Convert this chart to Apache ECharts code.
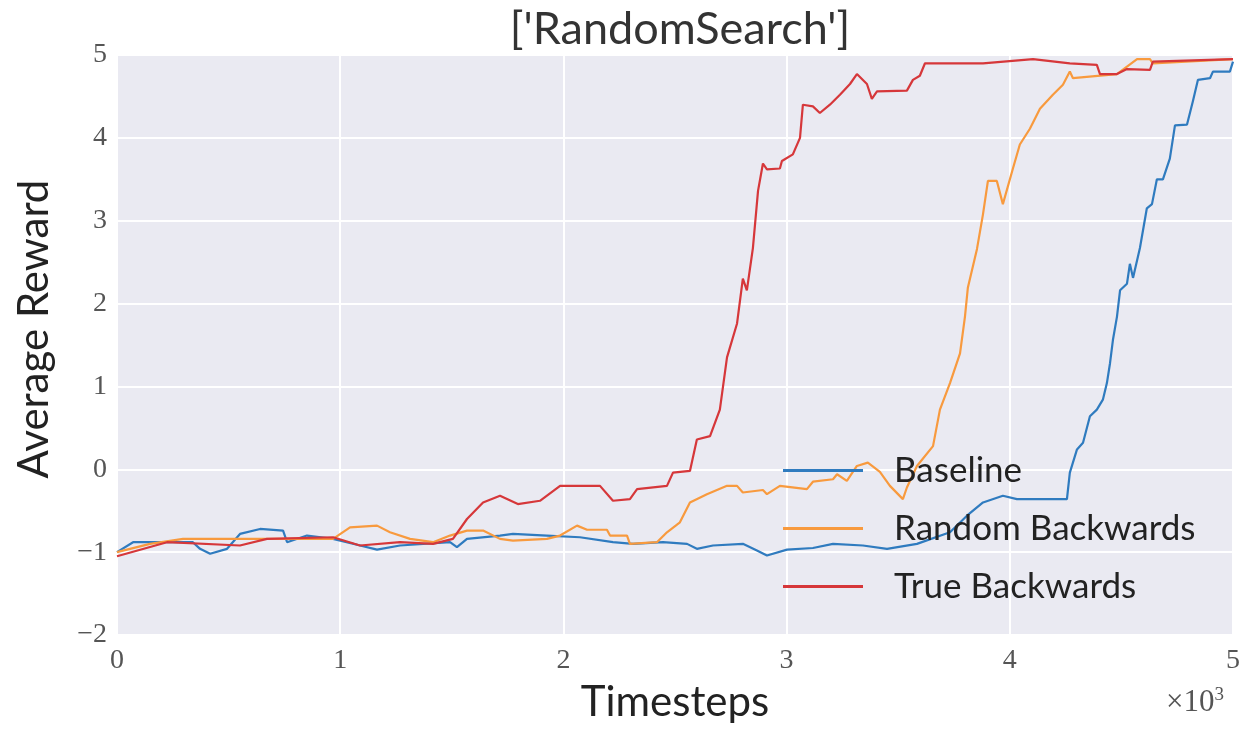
<!DOCTYPE html>
<html>
<head>
<meta charset="utf-8">
<script src="https://cdn.jsdelivr.net/npm/echarts@6/dist/echarts.min.js"></script>
<style>html,body{margin:0;padding:0;background:#fff}#c{width:1252px;height:731px}</style>
</head>
<body>
<div id="c"></div>
<script>
const seriesNames = ['Baseline', 'Random Backwards', 'True Backwards'];
const xTicks = [0, 1000, 2000, 3000, 4000, 5000];
const yTicks = [-2, -1, 0, 1, 2, 3, 4, 5];

const baselineSteps = [0,72,340,372,417,493,551,641,744,762,851,968,1089,1165,1268,1492,1523,1568,1716,1774,1926,2074,2222,2312,2446,2554,2598,2670,2804,2867,2912,3002,3118,3208,3342,3450,3584,3732,3808,3880,3969,4032,4256,4269,4301,4328,4359,4390,4417,4435,4449,4462,4480,4494,4525,4538,4552,4583,4614,4637,4659,4686,4717,4740,4794,4820,4843,4897,4910,4986,5000];
const baselineReward = [-1.0,-0.88,-0.88,-0.96,-1.02,-0.96,-0.78,-0.72,-0.74,-0.88,-0.8,-0.84,-0.92,-0.97,-0.92,-0.88,-0.94,-0.84,-0.8,-0.78,-0.8,-0.82,-0.88,-0.9,-0.88,-0.9,-0.96,-0.92,-0.9,-0.98,-1.04,-0.97,-0.95,-0.9,-0.92,-0.96,-0.9,-0.76,-0.56,-0.4,-0.32,-0.36,-0.36,-0.04,0.24,0.32,0.64,0.72,0.84,1.04,1.28,1.56,1.84,2.16,2.24,2.48,2.31,2.67,3.15,3.2,3.5,3.5,3.75,4.15,4.16,4.44,4.7,4.72,4.8,4.8,4.92];

const randomSteps = [0,148,296,968,1044,1165,1223,1313,1416,1492,1568,1640,1716,1774,1926,1985,2061,2106,2195,2209,2285,2298,2419,2464,2522,2567,2643,2733,2778,2804,2894,2912,2970,3091,3118,3208,3226,3270,3315,3364,3418,3463,3521,3539,3584,3656,3687,3732,3777,3799,3812,3853,3880,3902,3942,3969,4014,4045,4090,4135,4193,4238,4269,4283,4480,4570,4628,4641,5000];
const randomReward = [-1.0,-0.9,-0.84,-0.84,-0.7,-0.68,-0.76,-0.84,-0.88,-0.8,-0.74,-0.74,-0.84,-0.86,-0.84,-0.8,-0.68,-0.73,-0.73,-0.8,-0.8,-0.9,-0.88,-0.76,-0.64,-0.4,-0.3,-0.2,-0.2,-0.28,-0.25,-0.3,-0.2,-0.24,-0.15,-0.12,-0.06,-0.14,0.04,0.08,-0.03,-0.2,-0.36,-0.22,0.04,0.28,0.72,1.04,1.4,1.84,2.19,2.66,3.08,3.48,3.48,3.2,3.63,3.92,4.11,4.35,4.52,4.64,4.8,4.72,4.77,4.95,4.95,4.9,4.95];

const trueSteps = [0,224,551,672,968,1089,1268,1416,1505,1568,1640,1716,1796,1895,1985,2164,2222,2298,2330,2464,2491,2567,2598,2657,2701,2733,2778,2804,2822,2849,2872,2894,2912,2970,2979,3028,3060,3073,3118,3149,3194,3239,3284,3315,3360,3382,3405,3539,3566,3597,3620,3880,4104,4269,4390,4404,4480,4525,4628,4641,5000];
const trueReward = [-1.05,-0.88,-0.92,-0.84,-0.82,-0.92,-0.88,-0.9,-0.84,-0.6,-0.4,-0.32,-0.42,-0.38,-0.2,-0.2,-0.38,-0.36,-0.24,-0.2,-0.04,-0.02,0.36,0.4,0.72,1.35,1.76,2.3,2.16,2.67,3.36,3.69,3.62,3.63,3.72,3.8,4.0,4.4,4.38,4.3,4.4,4.52,4.65,4.77,4.65,4.47,4.56,4.57,4.7,4.75,4.9,4.9,4.95,4.9,4.88,4.77,4.77,4.83,4.82,4.92,4.95];

const colors = ['#2f7bbf', '#f89a3e', '#d6373a'];

function zip(a, b) { return a.map((v, i) => [v, b[i]]); }
const seriesData = [zip(baselineSteps, baselineReward), zip(randomSteps, randomReward), zip(trueSteps, trueReward)];

const chart = echarts.init(document.getElementById('c'), null, {renderer: 'canvas'});
const fmtNum = v => (v < 0 ? '\u2212' + (-v) : String(v));

chart.setOption({
  animation: false,
  backgroundColor: '#ffffff',
  title: {
    text: "['RandomSearch']",
    left: 675, textAlign: 'center', top: 2,
    textStyle: {fontFamily: 'Lato', fontSize: 45, fontWeight: 'normal', color: '#333'}
  },
  grid: {left: 117, right: 19, top: 55, bottom: 96, show: true, backgroundColor: '#eaeaf2', borderWidth: 0},
  xAxis: {
    type: 'value', min: xTicks[0], max: xTicks[xTicks.length - 1], interval: 1000,
    name: 'Timesteps', nameLocation: 'middle', nameGap: 46,
    nameTextStyle: {fontFamily: 'Lato', fontSize: 42, color: '#222'},
    axisLine: {show: false}, axisTick: {show: false},
    axisLabel: {formatter: v => fmtNum(v / 1000), fontFamily: 'Liberation Serif', fontSize: 28, color: '#555', margin: 12},
    splitLine: {show: true, lineStyle: {color: '#ffffff', width: 2}}
  },
  yAxis: {
    type: 'value', min: yTicks[0], max: yTicks[yTicks.length - 1], interval: 1,
    name: 'Average Reward', nameLocation: 'middle', nameGap: 62, nameRotate: 90,
    nameTextStyle: {fontFamily: 'Lato', fontSize: 42, color: '#222', padding: [0, 0, 0, 32]},
    axisLine: {show: false}, axisTick: {show: false},
    axisLabel: {formatter: fmtNum, fontFamily: 'Liberation Serif', fontSize: 28, color: '#555', margin: 10},
    splitLine: {show: true, lineStyle: {color: '#ffffff', width: 2}}
  },
  legend: {
    orient: 'vertical', left: 778, top: 448,
    itemWidth: 80, itemHeight: 3, itemGap: 23, icon: 'rect',
    textStyle: {fontFamily: 'Lato', fontSize: 35, color: '#222', padding: [0, 0, 0, 26]},
    data: seriesNames
  },
  series: seriesNames.map((n, i) => ({
    name: n, type: 'line', data: seriesData[i], showSymbol: false, symbol: 'none',
    lineStyle: {color: colors[i], width: 2.2}, itemStyle: {color: colors[i]}, z: 2 + i
  })),
  graphic: [{
    type: 'text', left: 1166, top: 686,
    style: {text: '\u00d710{s|3}', fontFamily: 'Liberation Serif', fontSize: 31, fill: '#555',
      rich: {s: {fontSize: 19, verticalAlign: 'top', padding: [0, 0, 14, 0], fontFamily: 'Liberation Serif', fill: '#555'}}}
  }]
});
</script>
</body>
</html>
